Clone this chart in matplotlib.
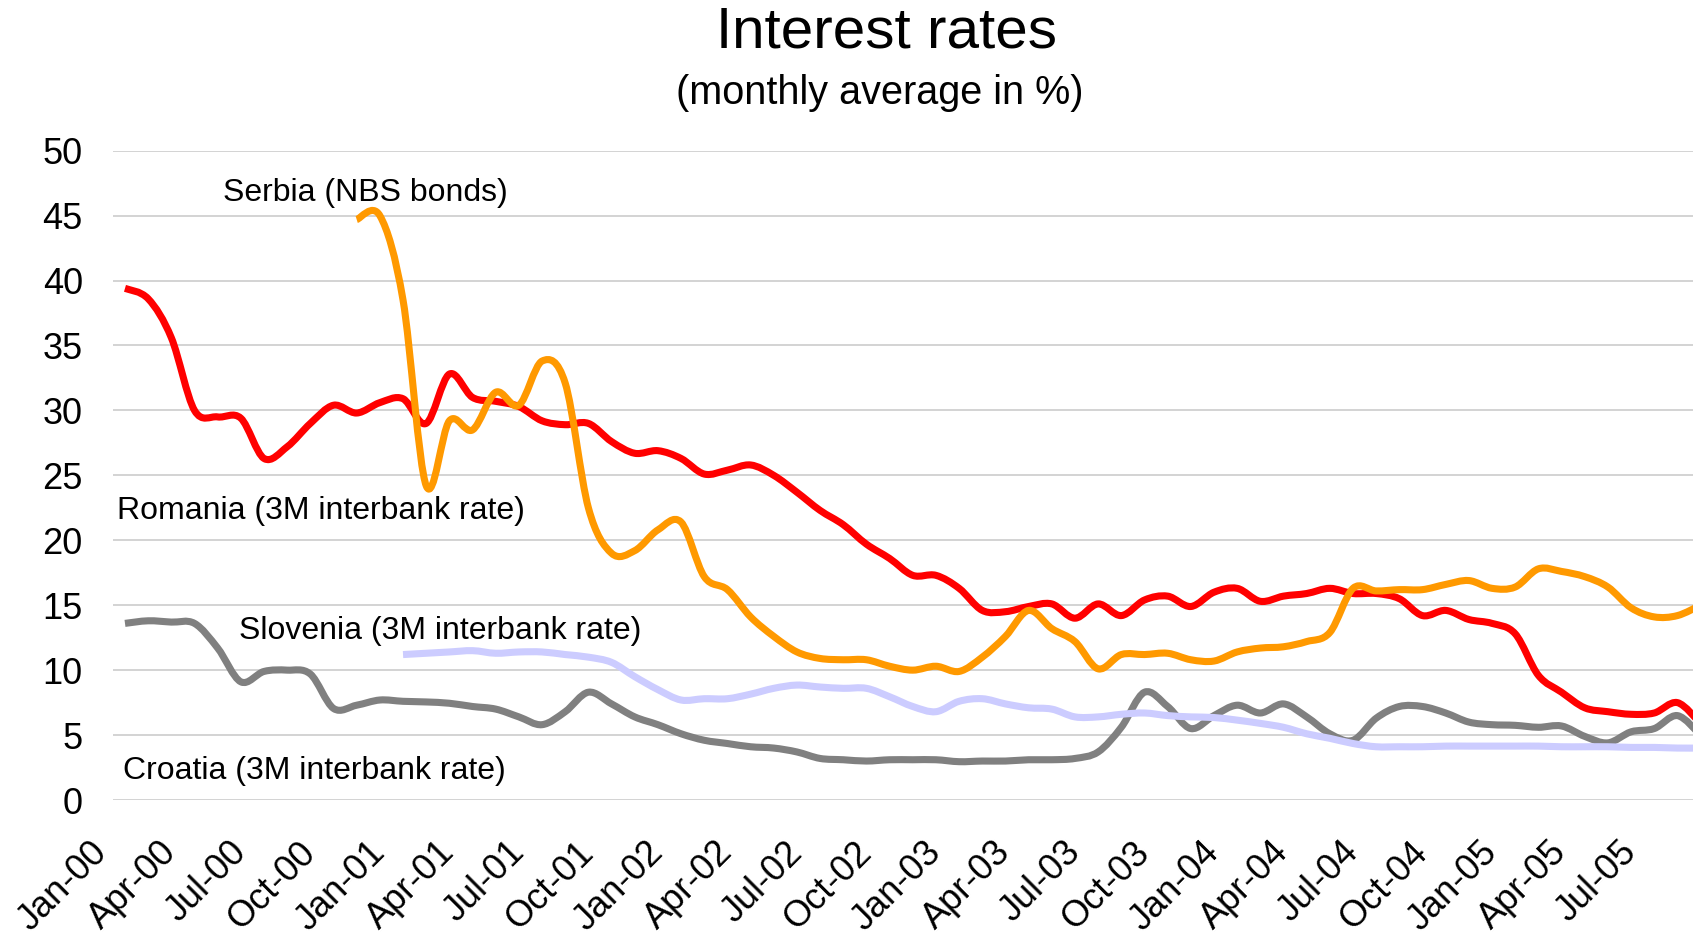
import numpy as np
import matplotlib
matplotlib.use('Agg')
import matplotlib.pyplot as plt
from matplotlib.path import Path
from matplotlib.patches import PathPatch
from matplotlib.transforms import ScaledTranslation

plt.rcParams['font.family'] = ['Liberation Sans', 'DejaVu Sans']

# monthly data, Jan-00 .. Sep-05
monthLabels = ['Jan-00', 'Apr-00', 'Jul-00', 'Oct-00', 'Jan-01', 'Apr-01', 'Jul-01', 'Oct-01',
               'Jan-02', 'Apr-02', 'Jul-02', 'Oct-02', 'Jan-03', 'Apr-03', 'Jul-03', 'Oct-03',
               'Jan-04', 'Apr-04', 'Jul-04', 'Oct-04', 'Jan-05', 'Apr-05', 'Jul-05']
nan = np.nan
romania = [39.4, 38.6, 35.6, 30.0, 29.5, 29.4, 26.3, 27.2, 29.0, 30.4, 29.8, 30.6, 30.9, 29.0,
           32.8, 31.0, 30.7, 30.3, 29.2, 28.9, 29.0, 27.6, 26.7, 26.9, 26.3, 25.1, 25.4, 25.8,
           25.0, 23.7, 22.3, 21.2, 19.7, 18.6, 17.3, 17.3, 16.3, 14.6, 14.5, 14.9, 15.1, 14.0,
           15.1, 14.2, 15.4, 15.7, 14.9, 16.0, 16.3, 15.3, 15.7, 15.9, 16.3, 15.9, 15.9, 15.5,
           14.2, 14.6, 13.9, 13.6, 12.8, 9.6, 8.3, 7.1, 6.8, 6.6, 6.7, 7.5, 5.9]
serbia = [nan] * 10 + [44.7, 45.0, 38.5, 24.2, 29.2, 28.5, 31.4, 30.4, 33.8, 32.1, 22.5, 19.0,
           19.2, 20.8, 21.4, 17.2, 16.2, 14.1, 12.6, 11.4, 10.9, 10.8, 10.8, 10.3, 10.0, 10.3,
           9.9, 11.0, 12.6, 14.6, 13.2, 12.2, 10.1, 11.2, 11.2, 11.3, 10.8, 10.7, 11.4, 11.7,
           11.8, 12.2, 12.9, 16.3, 16.1, 16.2, 16.2, 16.6, 16.9, 16.3, 16.4, 17.8, 17.6, 17.2,
           16.4, 14.8, 14.1, 14.2, 15.0]
slovenia = [nan] * 12 + [11.2, 11.3, 11.4, 11.5, 11.3, 11.4, 11.4, 11.2, 11.0, 10.6, 9.5, 8.5,
             7.7, 7.8, 7.8, 8.15, 8.6, 8.85, 8.7, 8.6, 8.6, 7.95, 7.2, 6.8, 7.6, 7.8, 7.4, 7.1,
             7.0, 6.4, 6.4, 6.6, 6.7, 6.5, 6.4, 6.35, 6.15, 5.9, 5.6, 5.1, 4.75, 4.35, 4.1, 4.1,
             4.1, 4.15, 4.15, 4.15, 4.15, 4.15, 4.1, 4.1, 4.1, 4.05, 4.05, 4.0, 4.0]
croatia = [13.6, 13.8, 13.7, 13.6, 11.7, 9.1, 9.9, 10.0, 9.7, 7.05, 7.3, 7.7, 7.6, 7.55, 7.45,
           7.2, 7.0, 6.4, 5.8, 6.8, 8.3, 7.4, 6.4, 5.8, 5.1, 4.6, 4.35, 4.1, 4.0, 3.7, 3.2, 3.1,
           3.0, 3.1, 3.1, 3.1, 2.95, 3.0, 3.0, 3.1, 3.1, 3.2, 3.7, 5.6, 8.3, 7.2, 5.5, 6.5, 7.3,
           6.7, 7.4, 6.4, 5.1, 4.6, 6.3, 7.2, 7.2, 6.7, 6.0, 5.8, 5.75, 5.6, 5.7, 4.9, 4.4, 5.25,
           5.5, 6.5, 5.0]


def smoothPath(vals):
    # excel style smoothed line: catmull-rom segments as cubic beziers
    y = np.array(vals, dtype=float)
    x = np.arange(len(y), dtype=float)
    ok = ~np.isnan(y)
    pts = np.column_stack([x[ok], y[ok]])
    n = len(pts)
    verts = [pts[0]]; codes = [Path.MOVETO]
    for i in range(n - 1):
        p0 = pts[max(i - 1, 0)]; p1 = pts[i]; p2 = pts[i + 1]; p3 = pts[min(i + 2, n - 1)]
        verts += [p1 + (p2 - p0) / 6.0, p2 - (p3 - p1) / 6.0, p2]
        codes += [Path.CURVE4] * 3
    return Path(verts, codes)


W, H = 1693, 936
fig = plt.figure(figsize=(W / 100.0, H / 100.0), dpi=100)
left = 113.4; bottom = 800.0; top = 150.7
ax = fig.add_axes([left / W, 1 - bottom / H, (W - left) / W, (bottom - top) / H])
ax.set_xlim(-0.5, (W - 125.0) / 23.17)
ax.set_ylim(0, 50)

series = [(croatia, '#808080'), (slovenia, '#ccccff'), (romania, '#ff0000'), (serbia, '#ff9900')]
for vals, col in series:
    ax.add_patch(PathPatch(smoothPath(vals), facecolor='none', edgecolor=col, lw=5.1,
                           capstyle='butt', joinstyle='round', zorder=3))

ax.set_yticks(range(0, 51, 5))
ax.yaxis.grid(True, color='#c8c8c8', lw=1.1)
ax.set_axisbelow(True)
for s in ax.spines.values():
    s.set_visible(False)
ax.tick_params(axis='both', length=0, labelsize=26)
ax.tick_params(axis='y', pad=22)
ax.set_xticks(range(0, 67, 3))
ax.set_xticklabels(monthLabels, rotation=45, ha='right', va='center', rotation_mode='anchor')
ax.tick_params(axis='x', pad=34)
for lab in ax.get_xticklabels():
    lab.set_transform(lab.get_transform() + ScaledTranslation(-0.23, 0, fig.dpi_scale_trans))

fig.text(887 / W, 1 - 33 / H, 'Interest rates', fontsize=42, ha='center', va='center')
fig.text(880 / W, 1 - 93 / H, '(monthly average in %)', fontsize=28.5, ha='center', va='center')

fs = 23
fig.text(223 / W, 1 - 193 / H, 'Serbia (NBS bonds)', fontsize=fs, va='center')
fig.text(117 / W, 1 - 511 / H, 'Romania (3M interbank rate)', fontsize=fs, va='center')
fig.text(239 / W, 1 - 631 / H, 'Slovenia (3M interbank rate)', fontsize=fs, va='center')
fig.text(123 / W, 1 - 771 / H, 'Croatia (3M interbank rate)', fontsize=fs, va='center')

fig.savefig('out.png', dpi=100)
